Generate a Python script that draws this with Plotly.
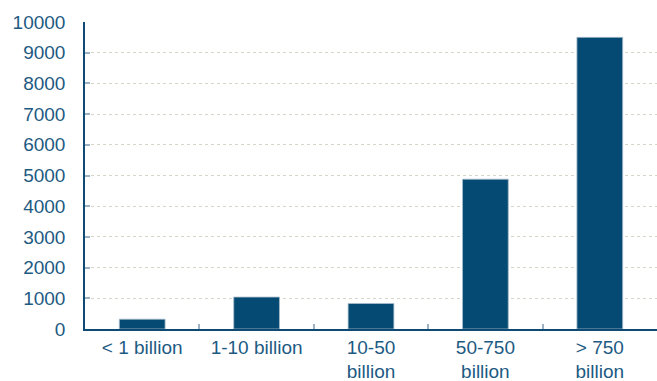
import plotly.graph_objects as go

# Asset size buckets and their values
categories = ["< 1 billion", "1-10 billion", "10-50<br>billion", "50-750<br>billion", "> 750<br>billion"]
values = [320, 1040, 830, 4880, 9500]
y_ticks = [0, 1000, 2000, 3000, 4000, 5000, 6000, 7000, 8000, 9000, 10000]

bar_color = "#054a73"
text_color = "#1d5a82"
axis_color = "#0e4a73"

fig = go.Figure(
    go.Bar(
        x=categories,
        y=values,
        marker=dict(color=bar_color, line=dict(color="#a9bccb", width=0.8)),
        width=0.4,
    )
)

fig.update_layout(
    width=657,
    height=381,
    margin=dict(l=85, r=0, t=22, b=52),
    paper_bgcolor="white",
    plot_bgcolor="white",
    font=dict(family="Liberation Sans, Arial, sans-serif", size=19, color=text_color),
    showlegend=False,
)

fig.update_xaxes(
    type="category",
    showline=True,
    linecolor=axis_color,
    linewidth=1.5,
    ticks="inside",
    tickson="boundaries",
    ticklen=5,
    tickcolor="#9db2c4",
    tickwidth=1.5,
    showgrid=False,
    tickfont=dict(size=19, color=text_color),
)

fig.update_yaxes(
    range=[0, 10000],
    tickvals=y_ticks,
    ticktext=[str(v) for v in y_ticks],
    showline=True,
    linecolor=axis_color,
    linewidth=1.5,
    ticks="inside",
    ticklen=5,
    tickcolor="#9db2c4",
    tickwidth=1.5,
    showgrid=True,
    gridcolor="#d6d6c8",
    gridwidth=1,
    griddash="3px,3px",
    zeroline=False,
    ticklabelstandoff=14,
    tickfont=dict(size=19, color=text_color),
)

fig.write_html("out.html")
